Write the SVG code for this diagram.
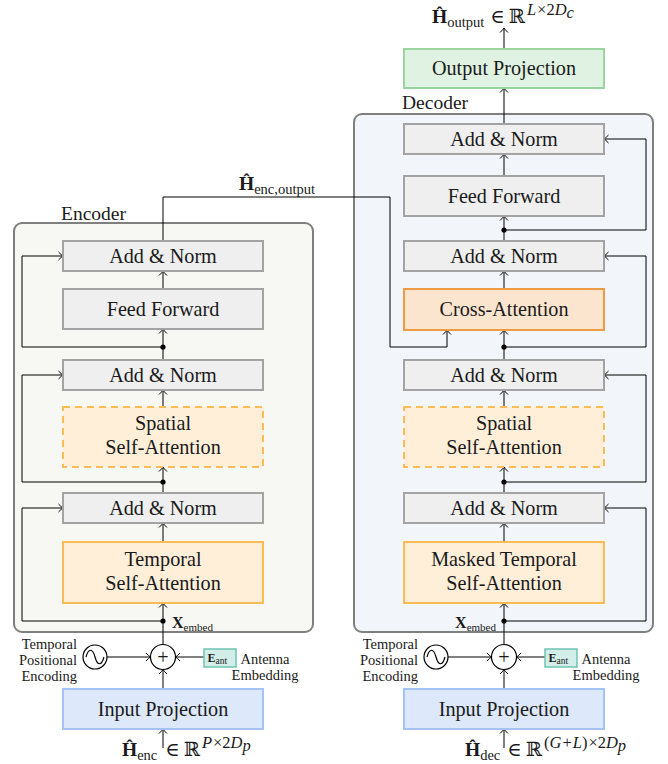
<svg xmlns="http://www.w3.org/2000/svg" width="668" height="764" viewBox="0 0 668 764" font-family="'Liberation Serif','Times New Roman','DejaVu Serif',serif">
<defs>
<marker id="arr" markerUnits="userSpaceOnUse" orient="auto" overflow="visible" refX="0" refY="0" markerWidth="10" markerHeight="10">
<path d="M-4.5,-4 Q-1.5,-0.8 0,0 Q-1.5,0.8 -4.5,4" fill="none" stroke="#000" stroke-width="1"/>
</marker>
<style>
text{fill:#1a1a1a}
.t{font-size:20.2px;text-anchor:middle}
.s{font-size:14.5px}
.lab{font-size:19.5px}
.m{font-size:19.5px}
.sub{font-size:14.5px}
.sup{font-size:16.5px;font-style:italic}
.sn{font-size:16.5px}
.bb{font-weight:bold}
.gray{fill:#efefef;stroke:#a3a3a3;stroke-width:2}
.tsa{fill:#ffefd9;stroke:#fbbb55;stroke-width:2}
.ssa{fill:#ffefd9;stroke:#fbbb55;stroke-width:2;stroke-dasharray:7,5}
.ca{fill:#fbe5cf;stroke:#ef9b45;stroke-width:2}
.ip{fill:#dde8fb;stroke:#a5c2f6;stroke-width:2}
.op{fill:#e0f3e3;stroke:#99d4a1;stroke-width:2}
.ea{fill:#d3eee8;stroke:#6dc3b1;stroke-width:1.5}
.cont{stroke:#7f7f7f;stroke-width:2}
.c path{fill:none;stroke:#000;stroke-width:1}
.a{marker-end:url(#arr)}
.dot{fill:#000}
.circ{fill:#fff;stroke:#000;stroke-width:1.2}
</style>
</defs>

<g id="encoder-container">
<rect x="14" y="223" width="299" height="409" rx="8" fill="#f7f7f3" class="cont"/>
<text x="61" y="220" class="lab">Encoder</text>
</g>
<g id="decoder-container">
<rect x="354" y="114" width="299" height="518" rx="8" fill="#f2f5fa" class="cont"/>
<text x="402" y="109" class="lab">Decoder</text>
</g>

<g class="c" id="connectors">
<path class="a" d="M163,748 L163,729"/>
<path class="a" d="M163,689 L163,669.5"/>
<path class="a" d="M107,657 L150.5,657"/>
<path class="a" d="M204,657 L175.5,657"/>
<path class="a" d="M163,644.5 L163,603"/>
<path class="a" d="M163,621 L22,621 L22,508 L63,508"/>
<path class="a" d="M163,542 L163,523"/>
<path class="a" d="M163,493 L163,467"/>
<path class="a" d="M163,482 L22,482 L22,375 L63,375"/>
<path class="a" d="M163,407 L163,390"/>
<path class="a" d="M163,360 L163,329"/>
<path class="a" d="M163,347 L22,347 L22,256 L63,256"/>
<path class="a" d="M163,289 L163,271"/>
<path class="a" d="M163,241 L163,197 L390,197 L390,347 L447,347 L447,330"/>
<path class="a" d="M504,748 L504,729"/>
<path class="a" d="M504,689 L504,669.5"/>
<path class="a" d="M448,657 L491.5,657"/>
<path class="a" d="M545,657 L516.5,657"/>
<path class="a" d="M504,644.5 L504,603"/>
<path class="a" d="M504,621 L646,621 L646,508 L604,508"/>
<path class="a" d="M504,542 L504,523"/>
<path class="a" d="M504,493 L504,467"/>
<path class="a" d="M504,482 L646,482 L646,375 L604,375"/>
<path class="a" d="M504,407 L504,390"/>
<path class="a" d="M504,360 L504,330"/>
<path class="a" d="M504,347 L646,347 L646,256 L604,256"/>
<path class="a" d="M504,289 L504,271"/>
<path class="a" d="M504,241 L504,216"/>
<path class="a" d="M504,230 L646,230 L646,139 L604,139"/>
<path class="a" d="M504,176 L504,154"/>
<path class="a" d="M504,124 L504,88"/>
<path class="a" d="M504,49 L504,28"/>
<circle class="dot" cx="163" cy="621" r="2.6"/>
<circle class="dot" cx="163" cy="482" r="2.6"/>
<circle class="dot" cx="163" cy="347" r="2.6"/>
<circle class="dot" cx="504" cy="621" r="2.6"/>
<circle class="dot" cx="504" cy="482" r="2.6"/>
<circle class="dot" cx="504" cy="347" r="2.6"/>
<circle class="dot" cx="504" cy="230" r="2.6"/>
</g>

<g id="enc-addnorm3"><rect x="63" y="241" width="200" height="30" class="gray"/><text x="163" y="262.5" class="t">Add &amp; Norm</text></g>
<g id="enc-ff"><rect x="63" y="289" width="200" height="40" class="gray"/><text x="163" y="315.5" class="t">Feed Forward</text></g>
<g id="enc-addnorm2"><rect x="63" y="360" width="200" height="30" class="gray"/><text x="163" y="381.5" class="t">Add &amp; Norm</text></g>
<g id="enc-ssa"><rect x="63" y="407" width="200" height="60" class="ssa"/><text x="163" y="430" class="t">Spatial</text><text x="163" y="454" class="t">Self-Attention</text></g>
<g id="enc-addnorm1"><rect x="63" y="493" width="200" height="30" class="gray"/><text x="163" y="514.5" class="t">Add &amp; Norm</text></g>
<g id="enc-tsa"><rect x="63" y="542" width="200" height="61" class="tsa"/><text x="163" y="566" class="t">Temporal</text><text x="163" y="590" class="t">Self-Attention</text></g>
<g id="enc-xembed"><text x="172" y="628"><tspan class="bb" font-size="16">X</tspan><tspan font-size="11" dy="3">embed</tspan></text></g>
<g id="enc-plus"><circle cx="163" cy="657" r="12.5" class="circ"/><text x="163" y="663.5" class="t" font-size="19">+</text></g>
<g id="enc-pe"><circle cx="95" cy="657" r="12" class="circ"/><path d="M86,657 C88.5,648 92.5,648 95,657 C97.5,666 101.5,666 104,657" fill="none" stroke="#000" stroke-width="1.2"/>
<text class="s" text-anchor="end"><tspan x="77" y="649">Temporal</tspan><tspan x="77" y="665">Positional</tspan><tspan x="77" y="681">Encoding</tspan></text></g>
<g id="enc-eant"><rect x="204" y="649" width="32" height="18" class="ea"/><text x="207.5" y="662" font-size="12"><tspan class="bb">E</tspan><tspan font-size="9.5" dy="1.5">ant</tspan></text>
<text class="s" text-anchor="middle"><tspan x="265" y="664">Antenna</tspan><tspan x="265" y="680">Embedding</tspan></text></g>
<g id="enc-input"><rect x="63" y="689" width="200" height="40" class="ip"/><text x="163" y="715.5" class="t">Input Projection</text></g>
<g id="enc-in-label"><text x="122" y="756" class="m"><tspan class="bb">Ĥ</tspan><tspan class="sub" dy="4">enc</tspan><tspan dy="-4" dx="8">∈</tspan><tspan dx="4">ℝ</tspan><tspan class="sup" dy="-8" dx="2">P</tspan><tspan class="sn" dx="1">×</tspan><tspan class="sn">2</tspan><tspan class="sup">D</tspan><tspan class="sup" font-size="11.5" dy="3">p</tspan></text></g>

<g id="enc-out-label"><text x="239" y="190" class="m"><tspan class="bb">Ĥ</tspan><tspan class="sub" dy="4">enc,output</tspan></text></g>

<g id="dec-output"><rect x="404" y="49" width="200" height="39" class="op"/><text x="504" y="75" class="t">Output Projection</text></g>
<g id="dec-out-label"><text x="432" y="23" class="m"><tspan class="bb">Ĥ</tspan><tspan class="sub" dy="4">output</tspan><tspan dy="-4" dx="6">∈</tspan><tspan dx="4">ℝ</tspan><tspan class="sup" dy="-8" dx="2">L</tspan><tspan class="sn" dx="1">×</tspan><tspan class="sn">2</tspan><tspan class="sup">D</tspan><tspan class="sup" font-size="11.5" dy="3">c</tspan></text></g>
<g id="dec-addnorm4"><rect x="404" y="124" width="200" height="30" class="gray"/><text x="504" y="145.5" class="t">Add &amp; Norm</text></g>
<g id="dec-ff"><rect x="404" y="176" width="200" height="40" class="gray"/><text x="504" y="202.5" class="t">Feed Forward</text></g>
<g id="dec-addnorm3"><rect x="404" y="241" width="200" height="30" class="gray"/><text x="504" y="262.5" class="t">Add &amp; Norm</text></g>
<g id="dec-ca"><rect x="404" y="289" width="200" height="41" class="ca"/><text x="504" y="315.5" class="t">Cross-Attention</text></g>
<g id="dec-addnorm2"><rect x="404" y="360" width="200" height="30" class="gray"/><text x="504" y="381.5" class="t">Add &amp; Norm</text></g>
<g id="dec-ssa"><rect x="404" y="407" width="200" height="60" class="ssa"/><text x="504" y="430" class="t">Spatial</text><text x="504" y="454" class="t">Self-Attention</text></g>
<g id="dec-addnorm1"><rect x="404" y="493" width="200" height="30" class="gray"/><text x="504" y="514.5" class="t">Add &amp; Norm</text></g>
<g id="dec-mtsa"><rect x="404" y="542" width="200" height="61" class="tsa"/><text x="504" y="566" class="t">Masked Temporal</text><text x="504" y="590" class="t">Self-Attention</text></g>
<g id="dec-xembed"><text x="496" y="628" text-anchor="end"><tspan class="bb" font-size="16">X</tspan><tspan font-size="11" dy="3">embed</tspan></text></g>
<g id="dec-plus"><circle cx="504" cy="657" r="12.5" class="circ"/><text x="504" y="663.5" class="t" font-size="19">+</text></g>
<g id="dec-pe"><circle cx="436" cy="657" r="12" class="circ"/><path d="M427,657 C429.5,648 433.5,648 436,657 C438.5,666 442.5,666 445,657" fill="none" stroke="#000" stroke-width="1.2"/>
<text class="s" text-anchor="end"><tspan x="418" y="649">Temporal</tspan><tspan x="418" y="665">Positional</tspan><tspan x="418" y="681">Encoding</tspan></text></g>
<g id="dec-eant"><rect x="545" y="649" width="32" height="18" class="ea"/><text x="548.5" y="662" font-size="12"><tspan class="bb">E</tspan><tspan font-size="9.5" dy="1.5">ant</tspan></text>
<text class="s" text-anchor="middle"><tspan x="606" y="664">Antenna</tspan><tspan x="606" y="680">Embedding</tspan></text></g>
<g id="dec-input"><rect x="404" y="689" width="200" height="40" class="ip"/><text x="504" y="715.5" class="t">Input Projection</text></g>
<g id="dec-in-label"><text x="465" y="756" class="m"><tspan class="bb">Ĥ</tspan><tspan class="sub" dy="4">dec</tspan><tspan dy="-4" dx="7">∈</tspan><tspan dx="4">ℝ</tspan><tspan class="sn" dy="-8" dx="2">(</tspan><tspan class="sup">G</tspan><tspan class="sn" dx="1">+</tspan><tspan class="sup" dx="1">L</tspan><tspan class="sn">)</tspan><tspan class="sn" dx="1">×</tspan><tspan class="sn">2</tspan><tspan class="sup">D</tspan><tspan class="sup" font-size="11.5" dy="3">p</tspan></text></g>
</svg>
